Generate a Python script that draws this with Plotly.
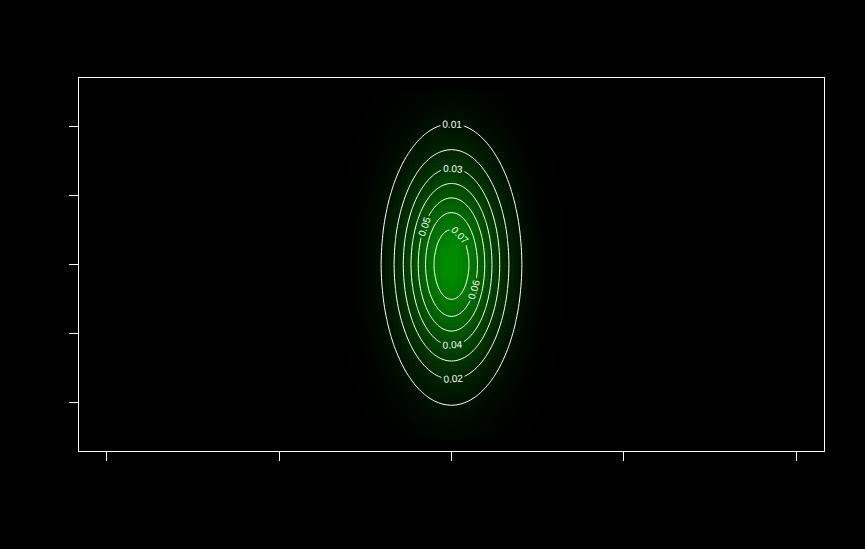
import numpy as np
import plotly.graph_objects as go

# grid limits and distribution parameters
x_limits = [-10, 10]
y_limits = [-5, 5]
center = [0, 0]
sigma = [1, 2]
x_ticks = [-10, -5, 0, 5, 10]
y_ticks = [-4, -2, 0, 2, 4]
levels = [0.01, 0.02, 0.03, 0.04, 0.05, 0.06, 0.07]

x = np.linspace(x_limits[0], x_limits[1], 161)
y = np.linspace(y_limits[0], y_limits[1], 81)
xx, yy = np.meshgrid(x, y)
dens = np.exp(-0.5 * (((xx - center[0]) / sigma[0]) ** 2 + ((yy - center[1]) / sigma[1]) ** 2))
dens = dens / (2 * np.pi * sigma[0] * sigma[1])

fig = go.Figure()

fig.add_trace(go.Heatmap(
    x=x, y=y, z=dens,
    colorscale=[[0, 'rgb(0,0,0)'], [1, 'rgb(0,140,0)']],
    showscale=False,
    hoverinfo='skip'
))

fig.add_trace(go.Contour(
    x=x, y=y, z=dens,
    contours=dict(
        coloring='lines',
        start=levels[0], end=levels[-1], size=levels[1] - levels[0],
        showlabels=True,
        labelfont=dict(color='white', size=10, family='Liberation Sans')
    ),
    colorscale=[[0, 'white'], [1, 'white']],
    line=dict(width=1, color='white'),
    showscale=False
))

axis_style = dict(
    showgrid=False, zeroline=False,
    showline=True, linecolor='white', linewidth=1, mirror=True,
    ticks='outside', ticklen=9, tickcolor='white', tickwidth=1,
    tickfont=dict(color='black')
)

fig.update_layout(
    width=865, height=549,
    paper_bgcolor='black', plot_bgcolor='black',
    margin=dict(l=79, r=41, t=78, b=98),
    xaxis=dict(range=[-10.8, 10.8], tickvals=x_ticks, **axis_style),
    yaxis=dict(range=[-5.4, 5.4], tickvals=y_ticks, **axis_style),
    showlegend=False
)

# page itself: no white border round the figure
fig.write_html("out.html", config={'displayModeBar': False},
               post_script="document.body.style.margin='0';document.body.style.background='black';")
